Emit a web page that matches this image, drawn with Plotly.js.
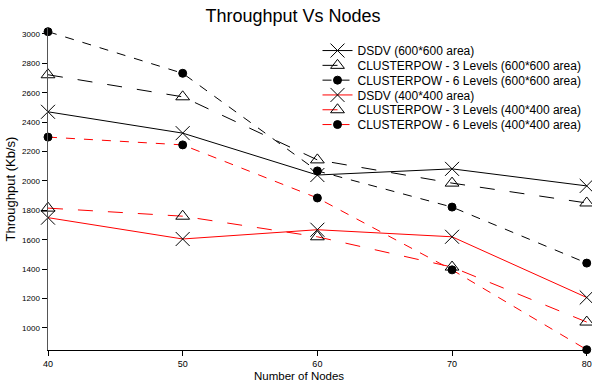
<!DOCTYPE html>
<html><head><meta charset="utf-8">
<script src="https://cdn.plot.ly/plotly-3.0.1.min.js"></script>
<style>body{margin:0;background:#fff}#c{width:592px;height:383px}</style>
</head><body><div id="c"></div>
<script>
const nodes = [40, 50, 60, 70, 80];
const dsdv600 = [2470, 2325, 2040, 2082, 1966];
const cp3_600 = [2722, 2572, 2143, 1985, 1850];
const cp6_600 = [3015, 2732, 2068, 1822, 1441];
const dsdv400 = [1750, 1605, 1668, 1620, 1207];
const cp3_400 = [1815, 1760, 1620, 1414, 1040];
const cp6_400 = [2298, 2245, 1884, 1395, 852];
const yTicks = [1000, 1200, 1400, 1600, 1800, 2000, 2200, 2400, 2600, 2800, 3000];
const names = ["DSDV (600*600 area)", "CLUSTERPOW - 3 Levels (600*600 area)", "CLUSTERPOW - 6 Levels (600*600 area)",
  "DSDV (400*400 area)", "CLUSTERPOW - 3 Levels (400*400 area)", "CLUSTERPOW - 6 Levels (400*400 area)"];
const series = [dsdv600, cp3_600, cp6_600, dsdv400, cp3_400, cp6_400];
const colors = ["#000", "#000", "#000", "#ff0000", "#ff0000", "#ff0000"];
const dashes = ["solid", "longdash", "dash", "solid", "longdash", "dash"];
const symbols = ["x-thin-open", "triangle-up-open", "circle", "x-thin-open", "triangle-up-open", "circle"];
const sizes = [14, 12, 8, 14, 12, 8];
const traces = series.map((s, i) => ({
  x: nodes, y: s, name: names[i], type: "scatter", mode: "lines+markers", cliponaxis: false,
  line: {color: colors[i], width: 1, dash: dashes[i]},
  marker: {symbol: symbols[i], size: sizes[i], color: "#000", line: {color: "#000", width: 1}}
}));
const layout = {
  width: 592, height: 383,
  margin: {l: 48, r: 5, t: 28, b: 33},
  paper_bgcolor: "#fff", plot_bgcolor: "#fff",
  font: {family: "Liberation Sans, Arial, sans-serif", color: "#000"},
  title: {text: "Throughput Vs Nodes", x: 0.495, xanchor: "center", y: 0.96, yanchor: "middle", font: {size: 18, color: "#000"}},
  xaxis: {range: [40, 80.02], tickvals: nodes, showgrid: false, zeroline: false, showline: true, linecolor: "#000", linewidth: 1,
    ticks: "outside", ticklen: 5, tickcolor: "#000", tickfont: {size: 9}},
  yaxis: {range: [850, 3040], tickvals: yTicks, showgrid: false, zeroline: false,
    showline: true, linecolor: "#555", linewidth: 1.5, ticks: "outside", ticklen: 5, tickcolor: "#000", tickfont: {size: 8},
    title: {text: "Throughput (Kb/s)", font: {size: 13}, standoff: 3}},
  annotations: [{text: "Number of Nodes", xref: "paper", yref: "paper", x: 0.466, y: -0.082, xanchor: "center", yanchor: "middle",
    showarrow: false, font: {size: 11.5, color: "#000"}}],
  legend: {x: 0.5, y: 0.975, xanchor: "left", yanchor: "top", font: {size: 12}, bgcolor: "rgba(0,0,0,0)", tracegroupgap: 0, itemwidth: 30},
  showlegend: true
};
Plotly.newPlot("c", traces, layout, {displayModeBar: false, staticPlot: true}).then(gd => {
  const items = gd.querySelectorAll(".legend .traces");
  if (!items.length) return;
  const m = /translate\(\s*([-\d.]+)[ ,]+([-\d.]+)/.exec(items[0].getAttribute("transform") || "");
  if (!m) return;
  const x0 = parseFloat(m[1]), y0 = parseFloat(m[2]);
  items.forEach((el, i) => el.setAttribute("transform", `translate(${x0},${y0 + i * 14.8})`));
});
</script></body></html>
